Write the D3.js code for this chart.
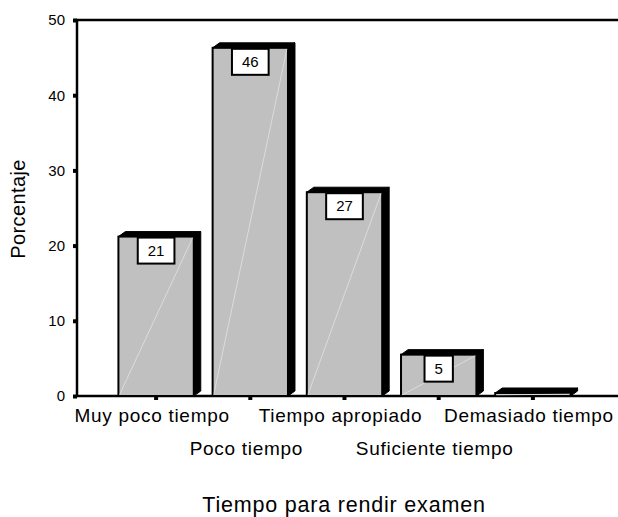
<!DOCTYPE html>
<html>
<head>
<meta charset="utf-8">
<script src="https://cdn.jsdelivr.net/npm/d3@7"></script>
<style>
  body { margin: 0; background: #fff; }
  text { font-family: "Liberation Sans", Arial, sans-serif; fill: #000; }
</style>
</head>
<body>
<div id="wrapper"></div>
<script>
const categories = [
  "Muy poco tiempo",
  "Poco tiempo",
  "Tiempo apropiado",
  "Suficiente tiempo",
  "Demasiado tiempo",
];
const values = [21.2, 46.3, 27.1, 5.5, 0.4];
const valueLabels = ["21", "46", "27", "5", ""];
const yTicks = [0, 10, 20, 30, 40, 50];

const dimensions = {
  width: 618,
  height: 517,
  margin: { top: 20, right: 0, bottom: 121, left: 77 },
};
dimensions.boundedWidth =
  dimensions.width - dimensions.margin.left - dimensions.margin.right;
dimensions.boundedHeight =
  dimensions.height - dimensions.margin.top - dimensions.margin.bottom;

const depth = { dx: 7, dy: 5 };

const wrapper = d3
  .select("#wrapper")
  .append("svg")
  .attr("width", dimensions.width)
  .attr("height", dimensions.height);

const bounds = wrapper
  .append("g")
  .attr("transform", `translate(${dimensions.margin.left},${dimensions.margin.top})`);

const xScale = d3
  .scaleBand()
  .domain(categories)
  .range([32, 503])
  .paddingInner(0.2)
  .paddingOuter(0.1);

const yScale = d3
  .scaleLinear()
  .domain([0, 50])
  .range([dimensions.boundedHeight, 0]);

// frame lines (left, top, bottom)
bounds
  .append("path")
  .attr("fill", "none")
  .attr("stroke", "#000")
  .attr("stroke-width", 2.5)
  .attr(
    "d",
    `M${dimensions.boundedWidth},0H0V${dimensions.boundedHeight}H${dimensions.boundedWidth}`
  );

// bars
const bar = bounds
  .selectAll(".bar")
  .data(categories.map((c, i) => ({ cat: c, value: values[i], label: valueLabels[i] })))
  .join("g")
  .attr("class", "bar");

const x0 = (d) => xScale(d.cat);
const x1 = (d) => xScale(d.cat) + xScale.bandwidth();
const yTop = (d) => yScale(d.value);
const yBase = yScale(0);

// side face
bar
  .append("path")
  .attr("fill", "#000")
  .attr("stroke", "#000")
  .attr("stroke-width", 1)
  .attr(
    "d",
    (d) =>
      `M${x1(d)},${yTop(d)}L${x1(d) + depth.dx},${yTop(d) - depth.dy}L${x1(d) + depth.dx},${yBase - depth.dy}L${x1(d)},${yBase}Z`
  );

// top face
bar
  .append("path")
  .attr("fill", "#000")
  .attr("stroke", "#000")
  .attr("stroke-width", 1)
  .attr(
    "d",
    (d) =>
      `M${x0(d)},${yTop(d)}L${x0(d) + depth.dx},${yTop(d) - depth.dy}L${x1(d) + depth.dx},${yTop(d) - depth.dy}L${x1(d)},${yTop(d)}Z`
  );

// front face
bar
  .append("rect")
  .attr("x", x0)
  .attr("y", yTop)
  .attr("width", xScale.bandwidth())
  .attr("height", (d) => yBase - yTop(d))
  .attr("fill", "#c0c0c0")
  .attr("stroke", "#000")
  .attr("stroke-width", 2);

// faint diagonal highlight
bar
  .append("line")
  .attr("x1", (d) => x0(d) + 1)
  .attr("y1", yBase - 1)
  .attr("x2", (d) => x1(d) - 1)
  .attr("y2", (d) => yTop(d) + 1)
  .attr("stroke", "#fff")
  .attr("stroke-opacity", 0.55)
  .attr("stroke-width", 0.8);

// value labels in boxes
const labelled = bar.filter((d) => d.label !== "");

const labelText = labelled
  .append("text")
  .attr("x", (d) => x0(d) + xScale.bandwidth() / 2)
  .attr("y", (d) => yTop(d) + 14)
  .attr("dy", "0.35em")
  .attr("text-anchor", "middle")
  .style("font-size", "15px")
  .text((d) => d.label);

labelText.each(function (d) {
  const w = this.getComputedTextLength();
  d3.select(this.parentNode)
    .insert("rect", "text")
    .attr("x", x0(d) + xScale.bandwidth() / 2 - w / 2 - 10)
    .attr("y", yTop(d) + 1)
    .attr("width", w + 20)
    .attr("height", 26)
    .attr("fill", "#fff")
    .attr("stroke", "#000")
    .attr("stroke-width", 2);
});

// y axis
const yAxisGenerator = d3
  .axisLeft(yScale)
  .tickValues(yTicks)
  .tickSize(4)
  .tickPadding(8);

const yAxis = bounds.append("g").attr("class", "y-axis").call(yAxisGenerator);
yAxis.select(".domain").remove();
yAxis.selectAll("line").attr("stroke", "#000").attr("stroke-width", 4);
yAxis
  .selectAll("text")
  .style("font-size", "15px")
  .style("font-family", "'Liberation Sans', Arial, sans-serif");

// x axis
const xAxisGenerator = d3.axisBottom(xScale).tickSize(4).tickPadding(8);

const xAxis = bounds
  .append("g")
  .attr("class", "x-axis")
  .attr("transform", `translate(0,${dimensions.boundedHeight})`)
  .call(xAxisGenerator);
xAxis.select(".domain").remove();
xAxis.selectAll("line").attr("stroke", "#000").attr("stroke-width", 4);
xAxis
  .selectAll("text")
  .style("font-size", "19px")
  .style("letter-spacing", "0.7px")
  .style("font-family", "'Liberation Sans', Arial, sans-serif")
  .attr("x", -4)
  .attr("y", (d, i) => (i % 2 === 0 ? 26 : 59))
  .attr("dy", 0);

// axis titles
wrapper
  .append("text")
  .attr("x", 344)
  .attr("y", 512)
  .attr("text-anchor", "middle")
  .style("font-size", "21.5px")
  .style("letter-spacing", "0.8px")
  .text("Tiempo para rendir examen");

wrapper
  .append("text")
  .attr("transform", "translate(25,209) rotate(-90)")
  .attr("text-anchor", "middle")
  .style("font-size", "20px")
  .style("letter-spacing", "0.4px")
  .text("Porcentaje");
</script>
</body>
</html>
